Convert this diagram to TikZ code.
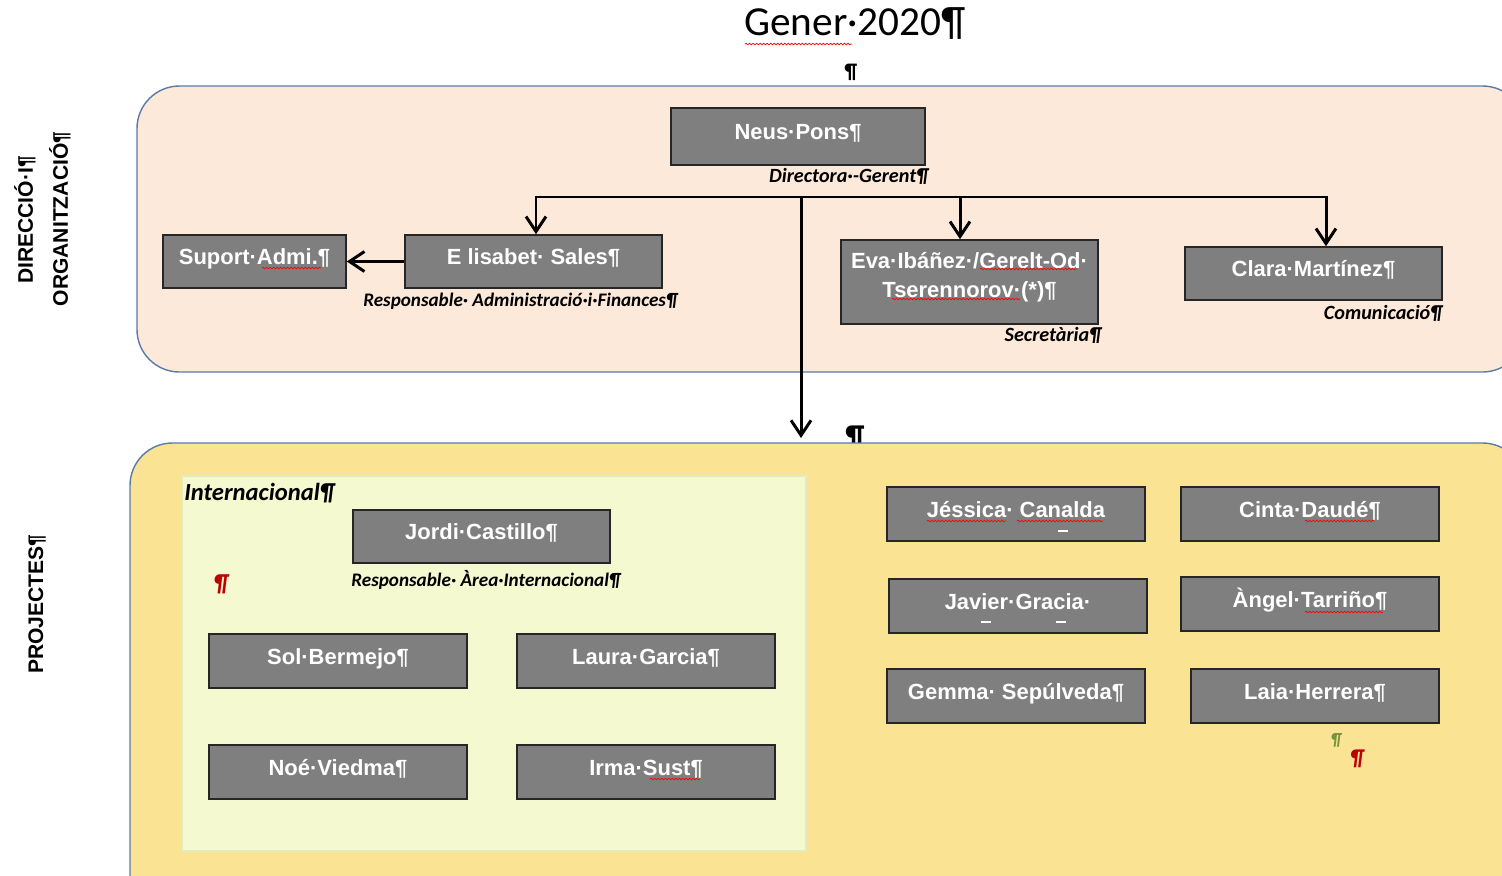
\documentclass[tikz,border=0pt]{standalone}
\usepackage{fontspec}
\setmainfont{Carlito}
\newfontfamily\boxfont{Liberation Sans}
\usetikzlibrary{arrows.meta,decorations.pathmorphing}
\definecolor{peach}{HTML}{FDE9D9}
\definecolor{sand}{HTML}{FAE393}
\definecolor{lime}{HTML}{F4F9D0}
\definecolor{limeline}{HTML}{E4EBBE}
\definecolor{frame}{HTML}{5B7BA6}
\definecolor{boxgrey}{HTML}{7F7F7F}
\definecolor{markred}{HTML}{C00000}
\definecolor{markgreen}{HTML}{77933C}
\begin{document}
\begin{tikzpicture}[x=0.02cm,y=-0.02cm]
        \tikzstyle{person}=[draw=black!85,line width=0.9pt,fill=boxgrey,text=white,minimum width=5.16cm,minimum height=1.08cm,inner sep=0pt,text height=9.5pt,text depth=6pt,align=center,font=\boxfont\bfseries\fontsize{12.5}{16.4}\selectfont]
        \tikzstyle{role}=[anchor=north east,inner sep=0pt,font=\bfseries\itshape\fontsize{11.5}{13}\selectfont]
        \tikzstyle{smallrole}=[role,font=\bfseries\itshape\fontsize{10.9}{12}\selectfont]
        \tikzstyle{edge}=[draw,line width=1.7pt,-{Straight Barb[length=3mm,width=4mm]}]
        \tikzstyle{area}=[draw=frame,line width=0.8pt,rounded corners=0.85cm]
        \tikzstyle{side}=[rotate=90,inner sep=0pt,font=\boxfont\bfseries\fontsize{12}{14}\selectfont]
        \tikzstyle{spell}=[draw=red,line width=0.4pt,decorate,decoration={snake,amplitude=0.45pt,segment length=2pt}]
        \useasboundingbox (0,0) rectangle (1502,876);
        \clip (0,0) rectangle (1502,876);
        % title
        \node[font=\fontsize{23.5}{28}\selectfont] (title) at (855,24) {Gener·2020¶};
        \node[font=\bfseries\fontsize{12}{14}\selectfont] (pilcrowtop) at (851,72) {¶};
        \node[font=\bfseries\fontsize{18}{20}\selectfont] (pilcrowmid) at (855,438) {¶};
        % areas
        \path[area,fill=peach] (137,86) rectangle (1525,372);
        \path[area,fill=sand] (130,443) rectangle (1525,930);
        \path[draw=limeline,fill=lime,line width=0.6pt] (182,476) rectangle (806,851);
        % side labels
        \node[side] (dir) at (25,220) {DIRECCIÓ·I¶};
        \node[side] (org) at (60,219) {ORGANITZACIÓ¶};
        \node[side] (proj) at (37,604) {PROJECTES¶};
        % direction
        \node[person,minimum width=5.08cm,minimum height=1.14cm] (neus) at (798,136.5) {Neus·Pons¶};
        \node[role] (neusrole) at ([xshift=0.06cm,yshift=-0.04cm]neus.south east) {Directora·-Gerent¶};
        \node[person,minimum width=3.66cm,minimum height=1.06cm] (suport) at (254.5,261.5) {Suport·Admi.¶};
        \node[person,minimum width=5.14cm,minimum height=1.06cm] (elisabet) at (533.5,261.5) {E lisabet· Sales¶};
        \node[smallrole] (elisabetrole) at ([xshift=0.3cm,yshift=-0.08cm]elisabet.south east) {Responsable· Administració·i·Finances¶};
        \node[person,minimum width=5.14cm,minimum height=1.68cm,text height=25.9pt,text depth=8.7pt] (eva) at (969.5,282) {Eva·Ibáñez·/Gerelt-Od·\\Tserennorov·(*)¶};
        \node[role] (evarole) at ([xshift=0.06cm,yshift=-0.04cm]eva.south east) {Secretària¶};
        \node[person,minimum width=5.14cm,minimum height=1.06cm] (clara) at (1313.5,273.5) {Clara·Martínez¶};
        \node[role] (clararole) at ([yshift=-0.08cm]clara.south east) {Comunicació¶};
        % connectors
        \coordinate (bus) at (801,197);
        \coordinate (drop) at (801,438);
        \draw[edge] (bus) -- (drop);
        \draw[edge] (bus) -| ([xshift=0.05cm]elisabet.north);
        \draw[edge] (bus) -| ([xshift=-0.19cm]eva.north);
        \draw[edge] (bus) -| ([xshift=0.25cm]clara.north);
        \draw[edge] (elisabet.west) -- (suport.east);
        % projects
        \node[anchor=west,inner sep=0pt,font=\bfseries\itshape\fontsize{14}{16}\selectfont] (intl) at (184,493) {Internacional¶};
        \node[person,minimum width=5.14cm,minimum height=1.06cm] (jordi) at (481.5,536.5) {Jordi·Castillo¶};
        \node[smallrole] (jordirole) at ([xshift=0.2cm,yshift=-0.12cm]jordi.south east) {Responsable· Àrea·Internacional¶};
        \node[text=markred,font=\bfseries\itshape\fontsize{14}{16}\selectfont] (redmark) at (221,584) {¶};
        \node[person] (sol) at (338,661) {Sol·Bermejo¶};
        \node[person] (laura) at (646,661) {Laura·Garcia¶};
        \node[person] (noe) at (338,772) {Noé·Viedma¶};
        \node[person] (irma) at (646,772) {Irma·Sust¶};
        \node[person] (jessica) at (1016,514) {Jéssica· Canalda};
        \node[person] (cinta) at (1310,514) {Cinta·Daudé¶};
        \node[person] (javier) at (1018,606) {Javier·Gracia·};
        \node[person] (angel) at (1310,604) {Àngel·Tarriño¶};
        \node[person] (gemma) at (1016,696) {Gemma· Sepúlveda¶};
        \node[person,minimum width=4.96cm] (laia) at (1315,696) {Laia·Herrera¶};
        \node[text=markgreen,font=\bfseries\itshape\fontsize{10}{12}\selectfont] (greenmark) at (1336,740) {¶};
        \node[text=markred,font=\bfseries\itshape\fontsize{13}{15}\selectfont] (redmarkb) at (1357,759) {¶};
        % stray dashes
        \draw[white,line width=0.8pt] (1058,531) -- (1068,531);
        \draw[white,line width=0.8pt] (981,622) -- (991,622);
        \draw[white,line width=0.8pt] (1056,622) -- (1066,622);
        % spelling marks
        \path[spell] (745,44) -- (852,44);
        \path[spell] (262,268) -- (321,268);
        \path[spell] (980,269) -- (1077,269);
        \path[spell] (892,299) -- (1020,299);
        \path[spell] (927,521) -- (1006,521);
        \path[spell] (1017,521) -- (1103,521);
        \path[spell] (1305,521) -- (1374,521);
        \path[spell] (1305,612) -- (1383,612);
        \path[spell] (650,779) -- (700,779);
\end{tikzpicture}
\end{document}
